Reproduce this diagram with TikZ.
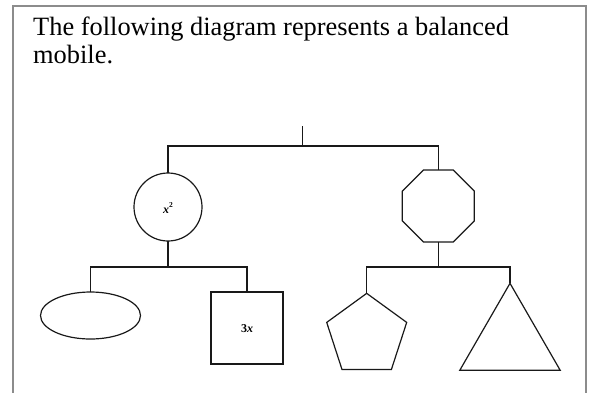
\documentclass[tikz,border=0pt]{standalone}
\usepackage{fontspec}
\setmainfont{Liberation Serif}
\usetikzlibrary{shapes.geometric}
\begin{document}
\begin{tikzpicture}[x=1pt,y=-1pt,
  shapeline/.style={draw=black!90, line width=1.2pt, inner sep=0pt, outer sep=0pt},
  wire/.style={draw=black!90, line width=1.2pt},
  lbl/.style={font=\fontsize{12}{14}\selectfont\bfseries}]
\useasboundingbox (0,0) rectangle (592,392);
\draw[black!45, line width=1.4pt] (13,400) -- (13,6) -- (586,6) -- (586,400);
\node[anchor=base west, inner sep=0pt, align=left, font=\fontsize{26.4}{28}\selectfont] (title) at (33,63)
  {The following diagram represents a balanced\\mobile.};
% shapes
\node[shapeline, circle, minimum size=68pt] (c) at (168,207) {};
\node[lbl] (cl) at (168,208) {\textit{x}\raisebox{0.45em}{\fontsize{7.5}{8}\selectfont 2}};
\node[shapeline, regular polygon, regular polygon sides=8, minimum size=77.9pt] (oct) at (438.3,206) {};
\node[shapeline, ellipse, minimum width=100pt, minimum height=47pt] (ell) at (90.5,315.5) {};
\node[shapeline, rectangle, minimum size=72pt] (sq) at (247,328) {};
\node[lbl] (sql) at (247,329) {3\textit{x}};
\node[shapeline, regular polygon, regular polygon sides=5, minimum size=84.1pt] (pent) at (366.7,335.4) {};
\node[shapeline, regular polygon, regular polygon sides=3, minimum size=116pt] (tri) at (510,341.3) {};
% connectors
\coordinate (hang) at (302.7,126);
\coordinate (j1) at (302.7,146);
\coordinate (j2) at (168,267);
\coordinate (j3) at (438.3,267);
\draw[wire] (hang) -- (j1);
\draw[wire] (c.north) |- (j1) -| (oct.north);
\draw[wire] (c.south) -- (j2);
\draw[wire] (ell.north) |- (j2) -| (sq.north);
\draw[wire] (oct.south) -- (j3);
\draw[wire] (pent.north) |- (j3) -| (tri.north);
\end{tikzpicture}
\end{document}
